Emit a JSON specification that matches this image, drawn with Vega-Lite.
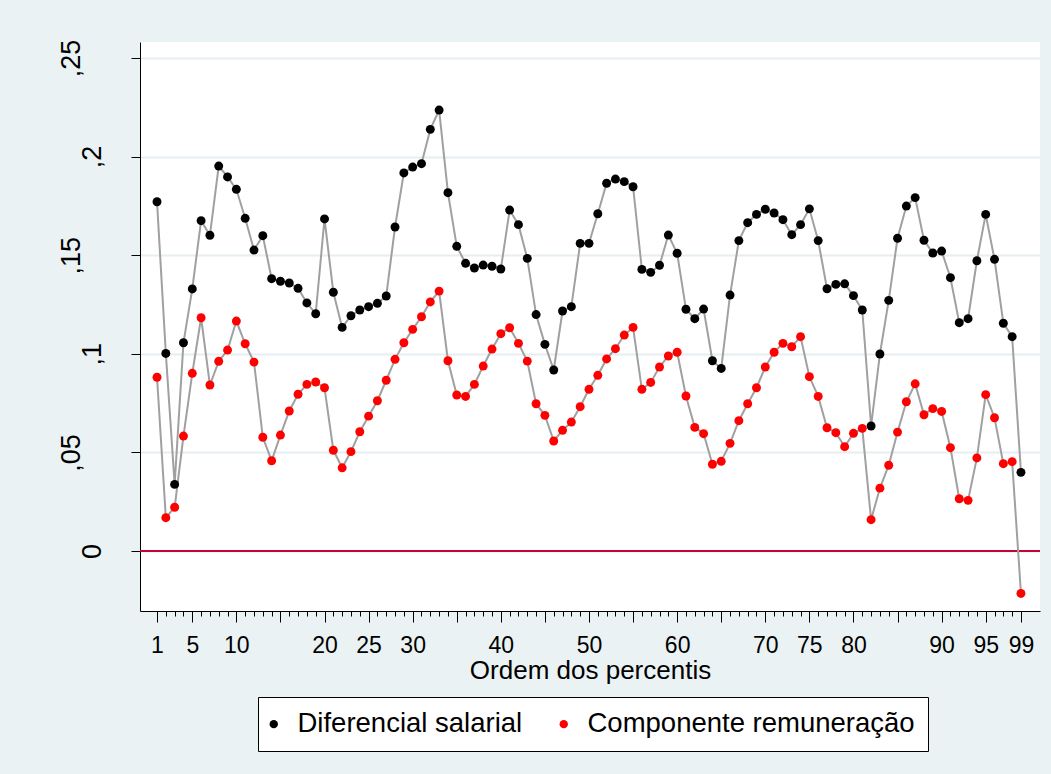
{
  "$schema": "https://vega.github.io/schema/vega-lite/v6.json",
  "width": 900,
  "height": 569,
  "autosize": {"type": "none"},
  "padding": {"left": 140, "top": 42, "right": 11, "bottom": 163},
  "background": "#EAF2F3",
  "config": {
    "font": "Liberation Sans",
    "view": {"fill": "white", "stroke": null},
    "legend": {
      "orient": "none",
      "legendX": 118,
      "legendY": 655,
      "direction": "horizontal",
      "fillColor": "white",
      "strokeColor": "black",
      "strokeWidth": 1,
      "padding": 13,
      "labelFontSize": 27.5,
      "labelColor": "black",
      "labelFont": "Liberation Sans",
      "symbolSize": 70,
      "symbolType": "circle",
      "symbolStrokeWidth": 0,
      "symbolOffset": -11,
      "columnPadding": 36,
      "labelOffset": 10,
      "labelLimit": 0
    }
  },
  "data": {
    "values": [
      {"p": 1, "Diferencial salarial": 0.1771, "Componente remuneração": 0.0881},
      {"p": 2, "Diferencial salarial": 0.1002, "Componente remuneração": 0.0169},
      {"p": 3, "Diferencial salarial": 0.0338, "Componente remuneração": 0.0222},
      {"p": 4, "Diferencial salarial": 0.1056, "Componente remuneração": 0.0583},
      {"p": 5, "Diferencial salarial": 0.1329, "Componente remuneração": 0.0901},
      {"p": 6, "Diferencial salarial": 0.1675, "Componente remuneração": 0.1183},
      {"p": 7, "Diferencial salarial": 0.1601, "Componente remuneração": 0.0842},
      {"p": 8, "Diferencial salarial": 0.1952, "Componente remuneração": 0.0962},
      {"p": 9, "Diferencial salarial": 0.1897, "Componente remuneração": 0.1019},
      {"p": 10, "Diferencial salarial": 0.1834, "Componente remuneração": 0.1166},
      {"p": 11, "Diferencial salarial": 0.1687, "Componente remuneração": 0.1051},
      {"p": 12, "Diferencial salarial": 0.1526, "Componente remuneração": 0.0958},
      {"p": 13, "Diferencial salarial": 0.1599, "Componente remuneração": 0.0577},
      {"p": 14, "Diferencial salarial": 0.1381, "Componente remuneração": 0.0458},
      {"p": 15, "Diferencial salarial": 0.1368, "Componente remuneração": 0.0588},
      {"p": 16, "Diferencial salarial": 0.1359, "Componente remuneração": 0.0710},
      {"p": 17, "Diferencial salarial": 0.1332, "Componente remuneração": 0.0795},
      {"p": 18, "Diferencial salarial": 0.1258, "Componente remuneração": 0.0845},
      {"p": 19, "Diferencial salarial": 0.1203, "Componente remuneração": 0.0857},
      {"p": 20, "Diferencial salarial": 0.1684, "Componente remuneração": 0.0828},
      {"p": 21, "Diferencial salarial": 0.1312, "Componente remuneração": 0.0511},
      {"p": 22, "Diferencial salarial": 0.1134, "Componente remuneração": 0.0422},
      {"p": 23, "Diferencial salarial": 0.1193, "Componente remuneração": 0.0504},
      {"p": 24, "Diferencial salarial": 0.1222, "Componente remuneração": 0.0605},
      {"p": 25, "Diferencial salarial": 0.1239, "Componente remuneração": 0.0684},
      {"p": 26, "Diferencial salarial": 0.1256, "Componente remuneração": 0.0762},
      {"p": 27, "Diferencial salarial": 0.1293, "Componente remuneração": 0.0866},
      {"p": 28, "Diferencial salarial": 0.1643, "Componente remuneração": 0.0972},
      {"p": 29, "Diferencial salarial": 0.1917, "Componente remuneração": 0.1056},
      {"p": 30, "Diferencial salarial": 0.1947, "Componente remuneração": 0.1124},
      {"p": 31, "Diferencial salarial": 0.1964, "Componente remuneração": 0.1188},
      {"p": 32, "Diferencial salarial": 0.2138, "Componente remuneração": 0.1263},
      {"p": 33, "Diferencial salarial": 0.2236, "Componente remuneração": 0.1318},
      {"p": 34, "Diferencial salarial": 0.1817, "Componente remuneração": 0.0965},
      {"p": 35, "Diferencial salarial": 0.1545, "Componente remuneração": 0.0791},
      {"p": 36, "Diferencial salarial": 0.1459, "Componente remuneração": 0.0784},
      {"p": 37, "Diferencial salarial": 0.1435, "Componente remuneração": 0.0845},
      {"p": 38, "Diferencial salarial": 0.1450, "Componente remuneração": 0.0938},
      {"p": 39, "Diferencial salarial": 0.1444, "Componente remuneração": 0.1024},
      {"p": 40, "Diferencial salarial": 0.1430, "Componente remuneração": 0.1102},
      {"p": 41, "Diferencial salarial": 0.1729, "Componente remuneração": 0.1132},
      {"p": 42, "Diferencial salarial": 0.1655, "Componente remuneração": 0.1053},
      {"p": 43, "Diferencial salarial": 0.1484, "Componente remuneração": 0.0963},
      {"p": 44, "Diferencial salarial": 0.1199, "Componente remuneração": 0.0747},
      {"p": 45, "Diferencial salarial": 0.1048, "Componente remuneração": 0.0688},
      {"p": 46, "Diferencial salarial": 0.0918, "Componente remuneração": 0.0558},
      {"p": 47, "Diferencial salarial": 0.1217, "Componente remuneração": 0.0612},
      {"p": 48, "Diferencial salarial": 0.1239, "Componente remuneração": 0.0654},
      {"p": 49, "Diferencial salarial": 0.1560, "Componente remuneração": 0.0732},
      {"p": 50, "Diferencial salarial": 0.1560, "Componente remuneração": 0.0820},
      {"p": 51, "Diferencial salarial": 0.1710, "Componente remuneração": 0.0891},
      {"p": 52, "Diferencial salarial": 0.1865, "Componente remuneração": 0.0974},
      {"p": 53, "Diferencial salarial": 0.1886, "Componente remuneração": 0.1026},
      {"p": 54, "Diferencial salarial": 0.1873, "Componente remuneração": 0.1095},
      {"p": 55, "Diferencial salarial": 0.1847, "Componente remuneração": 0.1134},
      {"p": 56, "Diferencial salarial": 0.1428, "Componente remuneração": 0.0820},
      {"p": 57, "Diferencial salarial": 0.1413, "Componente remuneração": 0.0855},
      {"p": 58, "Diferencial salarial": 0.1449, "Componente remuneração": 0.0933},
      {"p": 59, "Diferencial salarial": 0.1602, "Componente remuneração": 0.0989},
      {"p": 60, "Diferencial salarial": 0.1510, "Componente remuneração": 0.1008},
      {"p": 61, "Diferencial salarial": 0.1226, "Componente remuneração": 0.0786},
      {"p": 62, "Diferencial salarial": 0.1178, "Componente remuneração": 0.0627},
      {"p": 63, "Diferencial salarial": 0.1227, "Componente remuneração": 0.0595},
      {"p": 64, "Diferencial salarial": 0.0965, "Componente remuneração": 0.0440},
      {"p": 65, "Diferencial salarial": 0.0926, "Componente remuneração": 0.0455},
      {"p": 66, "Diferencial salarial": 0.1298, "Componente remuneração": 0.0546},
      {"p": 67, "Diferencial salarial": 0.1574, "Componente remuneração": 0.0661},
      {"p": 68, "Diferencial salarial": 0.1665, "Componente remuneração": 0.0747},
      {"p": 69, "Diferencial salarial": 0.1707, "Componente remuneração": 0.0828},
      {"p": 70, "Diferencial salarial": 0.1733, "Componente remuneração": 0.0933},
      {"p": 71, "Diferencial salarial": 0.1714, "Componente remuneração": 0.1008},
      {"p": 72, "Diferencial salarial": 0.1680, "Componente remuneração": 0.1053},
      {"p": 73, "Diferencial salarial": 0.1604, "Componente remuneração": 0.1036},
      {"p": 74, "Diferencial salarial": 0.1655, "Componente remuneração": 0.1087},
      {"p": 75, "Diferencial salarial": 0.1735, "Componente remuneração": 0.0884},
      {"p": 76, "Diferencial salarial": 0.1574, "Componente remuneração": 0.0784},
      {"p": 77, "Diferencial salarial": 0.1330, "Componente remuneração": 0.0625},
      {"p": 78, "Diferencial salarial": 0.1352, "Componente remuneração": 0.0600},
      {"p": 79, "Diferencial salarial": 0.1355, "Componente remuneração": 0.0529},
      {"p": 80, "Diferencial salarial": 0.1295, "Componente remuneração": 0.0597},
      {"p": 81, "Diferencial salarial": 0.1222, "Componente remuneração": 0.0622},
      {"p": 82, "Diferencial salarial": 0.0634, "Componente remuneração": 0.0159},
      {"p": 83, "Diferencial salarial": 0.0999, "Componente remuneração": 0.0319},
      {"p": 84, "Diferencial salarial": 0.1271, "Componente remuneração": 0.0435},
      {"p": 85, "Diferencial salarial": 0.1586, "Componente remuneração": 0.0603},
      {"p": 86, "Diferencial salarial": 0.1749, "Componente remuneração": 0.0757},
      {"p": 87, "Diferencial salarial": 0.1792, "Componente remuneração": 0.0848},
      {"p": 88, "Diferencial salarial": 0.1576, "Componente remuneração": 0.0691},
      {"p": 89, "Diferencial salarial": 0.1511, "Componente remuneração": 0.0722},
      {"p": 90, "Diferencial salarial": 0.1521, "Componente remuneração": 0.0708},
      {"p": 91, "Diferencial salarial": 0.1386, "Componente remuneração": 0.0524},
      {"p": 92, "Diferencial salarial": 0.1158, "Componente remuneração": 0.0265},
      {"p": 93, "Diferencial salarial": 0.1178, "Componente remuneração": 0.0257},
      {"p": 94, "Diferencial salarial": 0.1472, "Componente remuneração": 0.0472},
      {"p": 95, "Diferencial salarial": 0.1707, "Componente remuneração": 0.0793},
      {"p": 96, "Diferencial salarial": 0.1479, "Componente remuneração": 0.0676},
      {"p": 97, "Diferencial salarial": 0.1155, "Componente remuneração": 0.0443},
      {"p": 98, "Diferencial salarial": 0.1087, "Componente remuneração": 0.0453},
      {"p": 99, "Diferencial salarial": 0.0399, "Componente remuneração": -0.0215}
    ]
  },
  "encoding": {
    "y": {
      "field": "v",
      "type": "quantitative",
      "title": null,
      "scale": {"domain": [-0.0304, 0.2581], "nice": false, "zero": false},
      "axis": {
        "values": [0, 0.05, 0.1, 0.15, 0.2, 0.25],
        "grid": true,
        "gridColor": "#E6EEF1",
        "gridWidth": 2,
        "domainColor": "black",
        "domainWidth": 1,
        "tickColor": "black",
        "tickWidth": 1,
        "tickSize": 9,
        "labelAngle": 270,
        "labelAlign": "center",
        "labelBaseline": "bottom",
        "labelPadding": 46,
        "labelFontSize": 27,
        "labelLineHeight": 21,
        "labelColor": "black",
        "labelFlush": false,
        "labelOverlap": false,
        "labelBound": false,
        "labelExpr": "datum.value == 0 ? ['\u00a0', '\u00a0', '0'] : (abs(datum.value * 10 - round(datum.value * 10)) > 0.001 ? [replace(format(datum.value, '.2~f'), '0.', ',')] : ['\u00a0', replace(format(datum.value, '.2~f'), '0.', ',')])"
      }
    }
  },
  "layer": [
    {
      "data": {"values": [{"v": 0}]},
      "mark": {"type": "rule", "color": "#C10534", "strokeWidth": 2},
      "encoding": {}
    },
    {
      "transform": [
        {"fold": ["Diferencial salarial", "Componente remuneração"], "as": ["serie", "v"]}
      ],
      "mark": {"type": "line", "color": "#A0A0A0", "strokeWidth": 2},
      "encoding": {
        "x": {
          "field": "p",
          "type": "quantitative",
          "scale": {"domain": [-0.93, 101.16], "nice": false, "zero": false},
          "axis": {
            "orient": "bottom",
            "values": [1,2,3,4,5,6,7,8,9,10,11,12,13,14,15,16,17,18,19,20,21,22,23,24,25,26,27,28,29,30,31,32,33,34,35,36,37,38,39,40,41,42,43,44,45,46,47,48,49,50,51,52,53,54,55,56,57,58,59,60,61,62,63,64,65,66,67,68,69,70,71,72,73,74,75,76,77,78,79,80,81,82,83,84,85,86,87,88,89,90,91,92,93,94,95,96,97,98,99],
            "labels": false,
            "grid": false,
            "title": null,
            "tickSize": 5,
            "tickColor": "black",
            "tickWidth": 1,
            "domainColor": "black",
            "domainWidth": 1
          }
        },
        "detail": {"field": "serie"}
      }
    },
    {
      "transform": [
        {"fold": ["Diferencial salarial", "Componente remuneração"], "as": ["serie", "v"]}
      ],
      "mark": {"type": "point", "filled": true, "size": 80, "opacity": 1},
      "encoding": {
        "x": {
          "field": "p",
          "type": "quantitative",
          "axis": {
            "orient": "bottom",
            "values": [1, 5, 10, 15, 20, 25, 30, 35, 40, 45, 50, 55, 60, 65, 70, 75, 80, 85, 90, 95, 99],
            "labelExpr": "indexof([1, 5, 10, 20, 25, 30, 40, 50, 60, 70, 75, 80, 90, 95, 99], datum.value) >= 0 ? datum.label : ''",
            "grid": false,
            "domain": false,
            "tickSize": 11,
            "tickColor": "black",
            "tickWidth": 1,
            "labelFontSize": 23,
            "labelColor": "black",
            "labelPadding": 12,
            "labelFlush": false,
            "labelOverlap": false,
            "labelBound": false,
            "title": "Ordem dos percentis",
            "titleFontSize": 26,
            "titleFontWeight": "normal",
            "titleColor": "black",
            "titleBaseline": "alphabetic",
            "titleY": 67
          }
        },
        "color": {
          "field": "serie",
          "type": "nominal",
          "title": null,
          "scale": {"domain": ["Diferencial salarial", "Componente remuneração"], "range": ["#000000", "#FF0000"]}
        }
      }
    }
  ],
  "resolve": {"axis": {"x": "independent"}}
}
